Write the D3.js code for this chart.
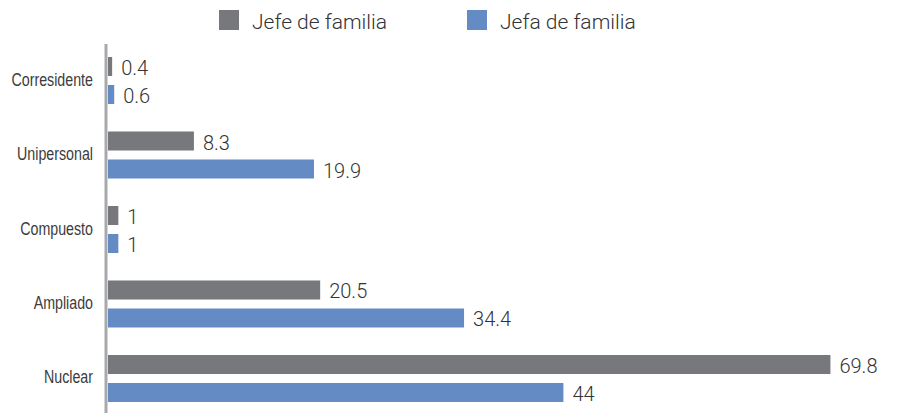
<!DOCTYPE html>
<html>
<head>
<meta charset="utf-8">
<script src="https://cdn.jsdelivr.net/npm/d3@7/dist/d3.min.js"></script>
<style>
  html, body { margin: 0; padding: 0; background: #ffffff; }
  svg { display: block; }
  .cat text { font-family: "Liberation Sans", Arial, sans-serif; font-size: 18.5px; fill: #3c3c3c; }
  .val { font-family: Roboto, "Liberation Sans", sans-serif; font-weight: 300; font-size: 20px; fill: #333333; }
  .leg { font-family: Roboto, "Liberation Sans", sans-serif; font-weight: 300; font-size: 21px; fill: #333333; }
</style>
</head>
<body>
<svg id="chart" width="899" height="413"></svg>
<script>
// Household types, top to bottom
const categories = ["Corresidente", "Unipersonal", "Compuesto", "Ampliado", "Nuclear"];
// Series names (legend)
const seriesNames = ["Jefe de familia", "Jefa de familia"];
// Percentages per household type
const jefeValues = [0.4, 8.3, 1, 20.5, 69.8];
const jefaValues = [0.6, 19.9, 1, 34.4, 44];
const valueLabels = [
  ["0.4", "8.3", "1", "20.5", "69.8"],
  ["0.6", "19.9", "1", "34.4", "44"]
];
const colors = ["#77787b", "#658bc4"];

const svg = d3.select("#chart");

const x = d3.scaleLinear().domain([0, 80]).range([108, 936]);
const y = d3.scaleBand().domain(categories).range([57, 402]).paddingInner(0.369).paddingOuter(0);
const sub = d3.scaleBand().domain(seriesNames).range([0, y.bandwidth()]).paddingInner(0.321).paddingOuter(0);

const seriesValues = [jefeValues, jefaValues];

// Bars with value labels
seriesNames.forEach((name, si) => {
  const g = svg.append("g");
  g.selectAll("rect")
    .data(categories)
    .join("rect")
    .attr("x", x(0))
    .attr("y", (c) => y(c) + sub(name))
    .attr("width", (c, i) => x(seriesValues[si][i]) - x(0))
    .attr("height", sub.bandwidth())
    .attr("fill", colors[si]);

  g.selectAll("text")
    .data(categories)
    .join("text")
    .attr("class", "val")
    .attr("x", (c, i) => x(seriesValues[si][i]) + 9)
    .attr("y", (c) => y(c) + sub(name) + sub.bandwidth() / 2 + 8.5)
    .text((c, i) => valueLabels[si][i]);
});

// Category axis (condensed labels)
const axis = svg.append("g")
  .attr("class", "cat")
  .attr("transform", "translate(93,5)")
  .call(d3.axisLeft(y).tickSize(0).tickPadding(0));
axis.select(".domain").remove();
axis.selectAll("text")
  .attr("x", 0)
  .attr("dy", null)
  .attr("transform", "scale(0.77,1)");

// Vertical baseline
svg.append("line")
  .attr("x1", 106).attr("x2", 106)
  .attr("y1", 44).attr("y2", 413)
  .attr("stroke", "#a7a9ac")
  .attr("stroke-width", 3);

// Legend
const legendX = [219, 467];
seriesNames.forEach((name, i) => {
  svg.append("rect")
    .attr("x", legendX[i]).attr("y", 10)
    .attr("width", 20).attr("height", 20)
    .attr("fill", colors[i]);
  svg.append("text")
    .attr("class", "leg")
    .attr("x", legendX[i] + 33).attr("y", 28.5)
    .text(name);
});
</script>
</body>
</html>
